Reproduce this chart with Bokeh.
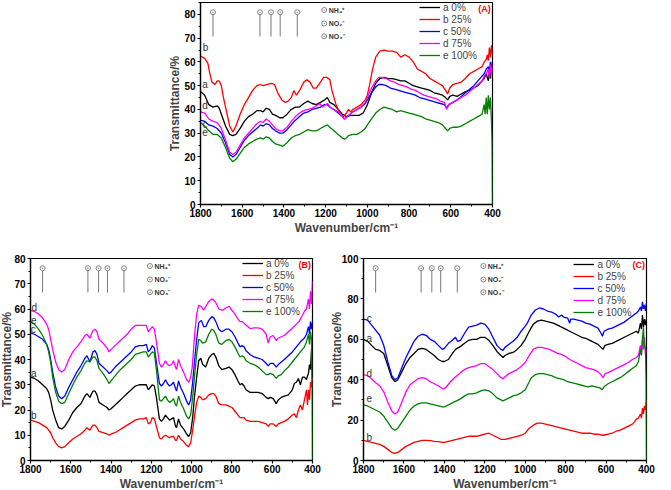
from bokeh.plotting import figure
from bokeh.models import Range1d, SingleIntervalTicker, Legend, LegendItem, Label, ColumnDataSource
from bokeh.layouts import column, row
from bokeh.embed import file_html
from bokeh.resources import INLINE

FONT = "Liberation Sans"

SERIES_LABELS = ["a 0%", "b 25%", "c 50%", "d 75%", "e 100%"]
CURVE_LETTERS = ["a", "b", "c", "d", "e"]
COLORS = ["#000000", "#ff0000", "#0000ff", "#ff00ff", "#008000"]
ION_LABELS = ["NH\u2084\u207a", "NO\u2082\u207b", "NO\u2083\u207b"]
PEAK_WN = [1740, 1515, 1462, 1418, 1336]
ION_LIST_WN = 1207
X_LABEL = "Wavenumber/cm\u207b\u00b9"
Y_LABEL = "Transmittance/%"

# ---------------- Panel A ----------------
A_a = [(1800,47.5),(1780,46),(1760,42),(1740,41),(1720,41.5),(1710,40.5),(1700,38),(1680,33),(1660,29.5),(1645,29),(1630,29.5),(1610,32),(1590,35),(1570,37),(1550,38),(1530,39.5),(1512,39.5),(1500,39),(1485,40.5),(1470,40),(1455,38),(1440,37.5),(1420,36.5),(1405,36.5),(1385,38),(1365,40),(1345,41),(1325,41),(1305,42.5),(1285,43.5),(1265,42.5),(1245,42),(1225,43),(1205,44),(1192,45),(1180,43),(1160,42),(1140,40),(1120,38),(1100,37),(1080,37.5),(1060,37.5),(1040,37.5),(1020,38.5),(1000,42),(980,47),(960,51),(940,53),(920,53.5),(900,53),(880,53),(860,52.5),(840,52),(820,52),(800,51),(780,50),(760,49.5),(740,49),(720,48.5),(700,48),(680,47),(660,46.5),(640,46),(625,45),(615,44),(605,45.5),(590,46),(570,45.5),(550,46.5),(530,47.5),(510,48),(490,49),(470,50),(450,52),(440,53),(430,55),(420,52),(415,57),(410,53),(405,58),(400,55)]
A_b = [(1800,62.5),(1780,61.5),(1765,59.5),(1755,55),(1745,51.5),(1730,50.5),(1720,52),(1710,52),(1700,50),(1690,45),(1675,39),(1660,33),(1645,30.5),(1630,33),(1610,38),(1590,42),(1570,45),(1550,48),(1530,50),(1515,50.5),(1500,50),(1480,50.5),(1460,51),(1445,50.5),(1430,47),(1410,44),(1395,43),(1380,43.5),(1365,45),(1352,48),(1340,46),(1325,48),(1305,51.5),(1290,52.5),(1275,51.5),(1260,49),(1245,49),(1225,51.5),(1210,53.5),(1195,53.5),(1180,52.5),(1170,48),(1150,42),(1130,38),(1115,37),(1100,38.5),(1090,40),(1080,39),(1070,40),(1050,41),(1030,42),(1010,44),(1000,46),(990,50),(975,57),(960,62),(940,64.5),(920,65),(900,64.5),(880,64.5),(860,64),(840,62),(820,63),(800,62),(780,60),(760,57),(740,56),(720,55),(700,53),(680,52),(660,51),(640,50),(625,48),(615,46.5),(605,49),(590,50.5),(570,51),(550,51.5),(530,53),(510,55),(490,56),(470,57),(450,58),(440,60),(430,61),(425,63),(420,60.5),(415,66),(410,62),(405,67),(400,63)]
A_c = [(1800,35.5),(1780,35),(1760,33.5),(1740,33),(1720,32),(1700,30),(1680,26),(1660,21),(1645,20),(1630,21),(1610,24),(1590,27),(1570,29),(1550,30.5),(1530,32),(1512,33.5),(1500,33),(1485,34),(1470,33.5),(1455,32),(1440,31),(1420,30),(1405,30),(1385,31.5),(1365,33.5),(1345,35.5),(1325,37),(1305,38.5),(1285,39),(1265,40),(1245,40.5),(1225,41),(1205,42),(1192,42),(1180,41),(1160,40),(1140,38.5),(1120,37),(1110,36),(1090,37.5),(1070,39),(1050,40),(1030,41),(1010,42.5),(1000,44),(980,47),(960,49.5),(945,50.5),(930,50.5),(910,50),(890,49),(870,48.5),(850,48),(830,47.5),(810,47),(790,46.5),(770,46),(750,45),(730,44.5),(710,44),(690,43.5),(670,43),(650,42.5),(630,42),(620,40.5),(610,42),(590,43),(570,44),(550,45.5),(530,47),(510,48.5),(490,50),(470,52),(450,54),(440,55),(430,57),(420,58),(415,56),(410,60),(405,57),(400,60)]
A_d = [(1800,39),(1780,38.5),(1760,36),(1740,35),(1720,34.5),(1700,32),(1680,27),(1660,22),(1645,21),(1630,22),(1610,25),(1590,28),(1570,30),(1550,32),(1530,34),(1512,35),(1500,34.5),(1485,36),(1470,35),(1455,33.5),(1440,32),(1420,31),(1405,31),(1385,32.5),(1365,35),(1345,37),(1325,38.5),(1305,39.5),(1285,40),(1265,40.5),(1245,41.5),(1228,42.5),(1215,41),(1200,42),(1190,42.5),(1180,41),(1160,40),(1140,39),(1120,37),(1110,36),(1090,37.5),(1070,39),(1050,40),(1030,41),(1010,43),(1000,45),(980,49),(960,52),(945,53.5),(930,53.5),(910,53),(890,52),(870,51.5),(850,50.5),(830,50),(810,49.5),(790,48.5),(770,48),(750,47),(730,46),(710,45.5),(690,45),(670,44.5),(650,43.5),(630,43),(620,40),(610,42),(590,43),(570,44),(550,45),(530,46),(510,47.5),(490,49),(470,50.5),(450,52),(440,54),(430,55),(420,57),(415,53),(410,59),(405,55),(400,58)]
A_e = [(1800,34.5),(1780,33),(1760,31),(1740,29.5),(1720,29.5),(1700,28),(1680,24),(1660,19.5),(1645,18),(1630,19),(1610,21.5),(1590,24),(1570,25.5),(1550,26.5),(1530,27.5),(1512,28),(1500,27.5),(1485,28.5),(1470,28),(1455,26.5),(1440,25.5),(1420,25),(1405,24.5),(1385,26),(1365,28),(1345,29),(1325,29.5),(1305,30.5),(1285,31.5),(1265,31),(1245,31),(1225,32),(1205,33),(1192,33.5),(1180,32.5),(1160,31),(1140,29.5),(1120,28),(1110,27.5),(1100,28),(1090,29),(1070,29.5),(1050,29.5),(1030,30.5),(1010,32),(1000,33.5),(980,36),(960,38.5),(940,40),(920,41),(900,40.5),(880,40),(860,39),(840,39.5),(820,39),(800,38.5),(780,38),(760,37.5),(740,37),(720,36),(700,35.5),(680,35),(660,34.5),(640,33.5),(625,32),(615,31),(605,32),(590,32.5),(570,32.5),(550,33),(530,34),(510,35),(490,36),(470,37),(450,38),(440,42),(435,38),(430,45),(425,38),(420,46),(415,40),(410,45),(405,35),(402,26),(400,0)]
A_LETTER_POS = [(1778, 50.5), (1776, 66), (1778, 33.5), (1778, 41.5), (1778, 30.5)]

# ---------------- Panel B ----------------
B_a = [(1800,33),(1780,32.5),(1760,31.5),(1740,30),(1720,28.5),(1710,27),(1700,24),(1690,20),(1675,16),(1660,13),(1645,12.5),(1630,13.5),(1610,16),(1590,19),(1570,21),(1550,22.5),(1530,25.5),(1520,26.5),(1505,25),(1490,27.5),(1480,27.5),(1470,26),(1460,23),(1440,22),(1420,21),(1410,20),(1400,20.5),(1380,22),(1360,23.5),(1340,25),(1320,26.5),(1300,28),(1280,29.5),(1260,30),(1240,30),(1225,30),(1215,28),(1205,29),(1195,30),(1185,29.5),(1175,25),(1160,16.5),(1150,15.5),(1140,16.5),(1130,18),(1120,17),(1110,16),(1100,16.5),(1090,17),(1080,13.5),(1075,13),(1065,16.5),(1055,14),(1040,12.5),(1025,10.5),(1015,9.5),(1005,11),(995,17),(985,26),(975,33),(965,39.5),(955,40.5),(945,38),(930,37),(915,40.5),(900,42),(890,42.5),(880,41),(865,37.5),(850,36),(830,36.5),(815,37),(800,36),(785,34),(770,31.5),(760,30),(750,30.5),(740,29.5),(730,28),(710,27),(690,27),(670,27),(650,26.5),(630,25),(620,24.5),(610,25),(595,24.5),(580,22.5),(570,24),(555,25),(540,25.5),(520,26),(500,28),(490,30.5),(480,31),(470,32.5),(460,30),(450,33),(440,33),(430,32),(425,33.5),(420,34.5),(415,38),(410,36),(405,44),(400,32)]
B_b = [(1800,16),(1780,15.5),(1760,15),(1740,14),(1720,13),(1700,11),(1690,9),(1675,7),(1660,5.5),(1645,5),(1630,5.5),(1610,7),(1590,8.5),(1570,9.5),(1550,10.5),(1530,12),(1520,13),(1505,12),(1490,14),(1480,14),(1470,13),(1460,11.5),(1440,11),(1420,10.5),(1410,10),(1400,10.5),(1380,11),(1360,12),(1340,13),(1320,14),(1300,15),(1280,16),(1260,16.5),(1240,16.5),(1225,17),(1215,14.5),(1205,15),(1195,17),(1185,16.5),(1175,13.5),(1160,9),(1150,8.5),(1140,9.5),(1130,10),(1120,9.5),(1110,9),(1100,9.5),(1090,9.5),(1080,8),(1075,8),(1065,10),(1055,8.5),(1040,7.5),(1025,6),(1015,5.5),(1005,7),(995,12),(985,18),(975,23),(965,25.5),(955,25),(945,24),(930,24.5),(915,26),(900,26.5),(890,26.5),(880,25.5),(865,22.5),(850,22),(830,22),(815,21.5),(800,21),(785,19.5),(770,18),(760,17),(750,17),(740,17),(730,16),(710,15.5),(690,15.5),(670,15.5),(650,15),(630,14.5),(620,13.5),(610,14.5),(595,14.5),(580,13.5),(570,14.5),(555,15),(540,15.5),(520,16.5),(500,18),(490,18.5),(480,17),(470,20),(460,22),(450,20),(440,24),(430,28),(425,22),(420,28),(415,24),(410,31),(405,29),(400,33)]
B_c = [(1800,50.5),(1780,50),(1760,49),(1740,48),(1720,46),(1710,44),(1700,40),(1690,35),(1675,29),(1660,25.5),(1645,24.5),(1630,25.5),(1610,29),(1590,32),(1570,35),(1550,37.5),(1530,40.5),(1520,41.5),(1505,39),(1490,43),(1480,43.5),(1470,42),(1460,38.5),(1440,37),(1420,35.5),(1410,34.5),(1400,35),(1380,37),(1360,38.5),(1340,40),(1320,41.5),(1300,43),(1280,45),(1260,45.5),(1240,45.5),(1225,46),(1215,43),(1205,44),(1195,45.5),(1185,44.5),(1175,39),(1160,30.5),(1150,29.5),(1140,30.5),(1130,32),(1120,30.5),(1110,29.5),(1100,30),(1090,31),(1080,28.5),(1075,27.5),(1065,31.5),(1055,29),(1040,26.5),(1025,23.5),(1015,22),(1005,24),(995,31),(985,40),(975,48),(965,54.5),(952,55.5),(940,53),(930,53),(915,55.5),(900,57),(890,56.5),(880,55),(865,52),(850,51),(830,52),(815,52),(800,51),(785,49),(770,46.5),(760,45),(750,45.5),(740,45),(730,43.5),(710,42),(690,41),(670,40.5),(650,40),(630,38.5),(620,37.5),(610,38.5),(595,38.5),(580,37),(570,38),(555,39),(540,40),(520,41.5),(500,43),(480,45),(460,47),(440,48.5),(430,50),(420,53),(415,50),(410,55),(405,52),(400,55)]
B_d = [(1800,59.5),(1780,59),(1760,58),(1740,56.5),(1720,54),(1710,52),(1700,48),(1690,44),(1675,39),(1660,36),(1645,35),(1630,36),(1610,40),(1590,43),(1570,45),(1550,47),(1530,49.5),(1520,50),(1505,48.5),(1490,51.5),(1480,52),(1470,51),(1460,48),(1440,46.5),(1420,44.5),(1410,43),(1400,44),(1380,45.5),(1360,47),(1340,48.5),(1320,50),(1300,52),(1280,53.5),(1260,53.5),(1240,53.5),(1225,53.5),(1215,51),(1205,52),(1195,53),(1185,52),(1175,47),(1160,38.5),(1150,37),(1140,38),(1130,39.5),(1120,38),(1110,37.5),(1100,38),(1090,39.5),(1080,37),(1075,36),(1065,40),(1055,37.5),(1040,35),(1025,32),(1013,31),(1005,33),(997,37),(985,50),(975,58),(965,61.5),(952,61),(941,59.5),(930,61),(915,63),(900,64),(890,63.5),(880,62.5),(865,60),(845,59.5),(830,60.5),(813,61),(800,59.5),(785,58),(770,56),(760,55),(748,55),(735,54),(720,53),(708,52.2),(690,52.5),(670,52.5),(650,52),(630,50),(620,46.5),(610,49),(595,49.5),(580,47.5),(572,48.3),(555,49),(540,49.5),(520,51),(500,52.5),(480,54),(467,55),(450,57.5),(440,59),(430,60),(420,64),(415,60),(410,67),(405,62),(400,71)]
B_e = [(1800,55),(1780,54),(1760,52),(1740,49.5),(1720,46),(1710,43),(1700,39),(1690,33),(1675,27),(1660,23.5),(1645,22.5),(1630,23),(1610,26.5),(1590,30),(1570,33),(1550,35.5),(1530,38.5),(1520,39.5),(1505,39),(1490,41),(1480,41),(1470,39.5),(1460,36.5),(1440,34.5),(1420,32),(1410,30.5),(1400,31.5),(1380,33.5),(1360,35.5),(1340,37),(1320,38.5),(1300,40),(1280,42),(1260,42.5),(1240,43),(1225,43),(1215,41),(1205,42),(1195,43),(1185,42.5),(1175,36),(1160,24),(1150,23.5),(1140,24.5),(1130,25.5),(1120,24),(1110,23),(1100,23.5),(1090,24.5),(1080,22),(1075,21.5),(1065,25.5),(1055,23),(1040,20.5),(1025,17.5),(1015,16.5),(1005,18),(995,25),(985,34),(975,42),(965,48),(955,47.5),(945,46.5),(930,47),(915,50),(900,52),(890,51.5),(880,50),(865,46.5),(850,46),(830,47.5),(815,48),(800,47),(785,45),(770,42.5),(760,41),(750,41.5),(740,41),(730,39.5),(710,38.5),(690,38),(670,37),(650,35.5),(630,34),(620,34),(610,34.5),(595,34),(580,32.5),(570,33.5),(555,34),(540,35.5),(520,37),(500,39),(480,41),(460,43),(440,45),(430,47),(420,50),(415,46),(410,51),(405,48),(402,30),(400,0)]
B_LETTER_POS = [(1784, 34.5), (1784, 17.8), (1786, 51.8), (1781, 60.5), (1784, 55.8)]

# ---------------- Panel C ----------------
C_a = [(1800,60),(1780,59),(1760,57),(1740,55),(1720,54.5),(1700,53),(1680,47),(1660,41),(1645,39),(1630,40),(1610,44),(1590,48),(1570,51),(1550,53),(1530,55),(1510,55.5),(1490,55),(1470,53.5),(1450,52),(1430,50),(1410,49),(1400,49),(1380,50),(1360,53),(1345,55),(1320,56.5),(1300,58),(1280,59.5),(1260,60),(1240,60),(1220,61),(1200,61),(1180,59.5),(1160,57),(1140,54),(1120,52),(1110,51),(1100,52),(1080,53),(1060,53.5),(1040,55),(1020,57),(1000,60),(980,64),(960,67.5),(940,69),(920,69.5),(900,69),(880,68.5),(860,68),(840,67),(820,66),(800,65),(780,64),(760,63),(740,62),(720,61),(700,60.5),(680,59.5),(660,58.5),(640,57.5),(625,56),(615,55),(605,57),(590,57.5),(570,58),(550,59),(530,60),(510,61),(490,62),(470,63),(450,64),(440,63),(430,68),(425,65),(420,72),(415,66),(410,70),(405,67),(400,70)]
C_b = [(1800,10),(1780,9.5),(1760,9),(1740,8.5),(1720,8),(1700,7),(1680,5.5),(1660,4),(1645,3.5),(1630,4),(1610,5.5),(1590,7),(1570,8),(1550,9),(1530,9.5),(1510,10),(1490,10),(1470,9.8),(1450,9.5),(1430,9.3),(1410,9),(1400,9),(1380,9.5),(1360,10),(1340,10.5),(1320,11),(1300,11.5),(1280,12),(1260,12),(1240,12),(1220,12.5),(1200,13),(1180,13.5),(1160,12.5),(1140,11.5),(1120,10.5),(1110,10.5),(1100,10.5),(1080,11),(1060,11.5),(1040,12),(1020,12.5),(1000,13.5),(980,16),(960,17.5),(940,18.5),(920,18.5),(900,18),(880,17.5),(860,17),(840,16.5),(820,16),(800,15.5),(780,15),(760,14.5),(740,14),(720,13.5),(700,13.5),(680,13.5),(660,13),(640,13),(620,12.5),(610,12.5),(590,13),(570,13.5),(550,14.5),(530,15),(510,16),(490,17),(470,18),(460,19),(450,20.5),(440,21),(430,23),(425,21),(420,26),(415,23),(410,27),(405,25),(400,30)]
C_c = [(1800,70),(1780,69.5),(1760,67),(1740,64.5),(1720,62),(1700,57),(1680,49),(1660,42),(1645,40),(1630,41),(1610,46),(1590,51),(1570,55),(1550,59),(1530,61.5),(1510,62.5),(1490,62),(1470,60),(1450,59),(1430,57),(1410,55),(1400,55.5),(1380,58),(1360,59.5),(1345,61),(1335,59),(1320,59.5),(1300,63),(1280,66),(1260,66.5),(1240,67),(1220,68),(1200,67.5),(1180,65),(1160,61),(1140,57),(1120,55),(1110,54.5),(1100,56),(1080,57.5),(1060,59),(1040,61),(1020,64),(1000,66.5),(990,68),(970,72),(950,74.5),(930,75.5),(910,75),(890,74),(870,73.5),(850,72.5),(834,71),(820,72),(810,71),(790,70.5),(780,68),(775,70),(760,70),(740,69.5),(720,69),(700,68),(680,67.5),(660,66.5),(640,65.5),(625,63),(618,61.5),(610,64),(590,65),(570,65.5),(550,66.5),(530,67.5),(510,68.5),(490,70),(470,71.5),(450,73),(440,74),(430,76),(425,74),(420,78.5),(415,75),(410,77),(405,74),(400,78)]
C_d = [(1800,42.5),(1780,42),(1760,40.5),(1740,38.5),(1720,37),(1700,34),(1680,29),(1660,24.5),(1645,23),(1630,24),(1610,29),(1590,34),(1570,37.5),(1550,39),(1530,40.5),(1510,41),(1490,40.5),(1470,39),(1450,38),(1430,37),(1410,35.5),(1400,35.5),(1390,36.5),(1370,39),(1350,41),(1320,43.5),(1300,45),(1280,46),(1260,46.5),(1240,47),(1220,48),(1200,48),(1180,46.5),(1160,45),(1140,43),(1120,41),(1110,40.5),(1100,41.5),(1080,43),(1060,44),(1040,45),(1020,46.5),(1000,48.5),(980,52),(960,55),(940,56),(920,56),(900,55.5),(880,55),(860,54),(840,53),(820,52.5),(800,51.5),(780,50),(760,49),(740,48),(720,47),(700,46),(680,45.5),(660,45),(640,44),(625,42.5),(615,41),(605,43),(590,43.5),(570,44.5),(550,45.5),(530,46.5),(510,47.5),(490,48.5),(470,50),(450,51),(440,52),(430,57),(425,53),(420,60),(415,55),(410,61),(405,52),(400,55)]
C_e = [(1800,27.5),(1780,27),(1760,26),(1740,25),(1720,24),(1700,22),(1680,19),(1660,16),(1645,15),(1630,16),(1610,19),(1590,22),(1570,25),(1550,27),(1530,28),(1510,28.5),(1490,28.5),(1470,28),(1450,27.5),(1430,27),(1410,26.5),(1400,26.5),(1380,27.5),(1360,28.5),(1340,29.5),(1320,30.5),(1300,32),(1280,33),(1260,33),(1240,33.5),(1220,34.5),(1200,35),(1180,34.5),(1160,33),(1140,31),(1120,30),(1110,29.5),(1100,30),(1080,31),(1060,32),(1040,32.5),(1020,33.5),(1000,35),(985,38),(970,41),(950,42.5),(930,43),(910,43),(890,42.5),(870,42),(850,41),(830,40.5),(810,40),(790,39),(770,38.5),(750,38),(730,37.5),(710,37),(690,36.5),(670,37),(650,36.5),(630,36),(620,35),(610,36.5),(590,38),(570,39),(550,40),(530,41),(510,42.5),(490,44),(470,45.5),(450,47),(440,49),(430,55),(425,52),(420,60),(415,66),(412,58),(405,55),(402,40),(400,0)]
C_LETTER_POS = [(1772, 60.2), (1772, 11.3), (1772, 70.4), (1772, 43), (1772, 31)]


def style_axes(p, y_interval, ylabel_standoff):
    p.xaxis.ticker = SingleIntervalTicker(interval=200, num_minor_ticks=2)
    p.yaxis.ticker = SingleIntervalTicker(interval=y_interval, num_minor_ticks=2)
    for ax in (p.xaxis[0], p.yaxis[0]):
        ax.axis_line_width = 1.3
        ax.major_tick_in = 0
        ax.major_tick_out = 3
        ax.minor_tick_in = 0
        ax.minor_tick_out = 2
        ax.major_tick_line_width = 1.2
        ax.major_label_standoff = 2
        ax.major_label_text_font = FONT
        ax.major_label_text_font_style = "bold"
        ax.major_label_text_font_size = "10px"
        ax.major_label_text_color = "black"
        ax.axis_label_text_font = FONT
        ax.axis_label_text_font_style = "bold"
        ax.axis_label_text_font_size = "12px"
    p.xaxis[0].major_label_standoff = 1
    p.xaxis[0].axis_label_standoff = 1
    p.yaxis[0].axis_label_standoff = ylabel_standoff
    p.xaxis.axis_label = X_LABEL
    p.yaxis.axis_label = Y_LABEL
    p.xgrid.visible = False
    p.ygrid.visible = False


def make_panel(series, ymax, y_interval, tag, letter_pos, fw, lb, rb, tb, bb, legend_xy,
               ylabel_standoff=-1):
    p = figure(x_range=Range1d(1800, 400), y_range=Range1d(0, ymax),
               frame_width=fw, frame_height=202,
               min_border_left=lb, min_border_right=rb, min_border_top=tb, min_border_bottom=bb,
               output_backend="svg", toolbar_location=None,
               outline_line_color="black", outline_line_width=1.2,
               border_fill_color="white", background_fill_color="white")
    style_axes(p, y_interval, ylabel_standoff)
    px = ymax / 202.0  # data units per screen pixel (vertical)

    items = []
    for data, color, lab in zip(series, COLORS, SERIES_LABELS):
        src = ColumnDataSource(dict(x=[d[0] for d in data], y=[d[1] for d in data]))
        r = p.line("x", "y", source=src, line_color=color, line_width=1.3)
        items.append(LegendItem(label=lab, renderers=[r]))

    legend = Legend(items=items, location=legend_xy, padding=0, margin=0, spacing=0,
                    glyph_width=21, glyph_height=12, label_height=12, label_standoff=3,
                    label_text_font=FONT, label_text_font_size="10px",
                    background_fill_alpha=0, border_line_color=None)
    p.add_layout(legend)

    # curve letters
    lsrc = ColumnDataSource(dict(x=[q[0] for q in letter_pos], y=[q[1] for q in letter_pos], t=CURVE_LETTERS))
    p.text("x", "y", text="t", source=lsrc, text_font_size="10px", text_color="#333333",
           text_align="center", text_baseline="middle", text_font={"value": FONT})

    # peak markers
    n = len(PEAK_WN)
    p.segment(x0=PEAK_WN, y0=[ymax - 12 * px] * n, x1=PEAK_WN, y1=[ymax - 34 * px] * n,
              line_color="#777777", line_width=1)
    p.scatter(PEAK_WN, [ymax - 9.7 * px] * n, marker="circle_dot", size=5,
              line_color="#666666", fill_color="white", line_width=0.8)

    # ion list
    ion_y = [ymax - 7.5 * px, ymax - 21 * px, ymax - 33.7 * px]
    p.scatter([ION_LIST_WN] * 3, ion_y, marker="circle_dot", size=5,
              line_color="#666666", fill_color="white", line_width=0.8)
    isrc = ColumnDataSource(dict(x=[ION_LIST_WN - 22] * 3, y=ion_y, t=ION_LABELS))
    p.text("x", "y", text="t", source=isrc, text_font_size="7px", text_font_style="bold",
           text_color="#333333", text_align="left", text_baseline="middle", text_font={"value": FONT})

    p.add_layout(Label(x=408, y=ymax - 6 * px, text=tag, text_color="red", text_font_style="bold",
                       text_font_size="9px", text_font=FONT, text_align="right", text_baseline="middle"))
    return p


pA = make_panel([A_a, A_b, A_c, A_d, A_e], 85, 10, "(A)", A_LETTER_POS,
                fw=292, lb=200, rb=12, tb=2, bb=36, legend_xy=(219, 143))
pB = make_panel([B_a, B_b, B_c, B_d, B_e], 80, 10, "(B)", B_LETTER_POS,
                fw=290, lb=45, rb=11, tb=18, bb=30, legend_xy=(212, 143),
                ylabel_standoff=-3)
pC = make_panel([C_a, C_b, C_c, C_d, C_e], 100, 20, "(C)", C_LETTER_POS,
                fw=291, lb=40, rb=9, tb=18, bb=30, legend_xy=(210, 142),
                ylabel_standoff=-5)

layout = column(pA, row(pB, pC, styles={"margin-left": "-15px"}))

open("out.html", "w").write(file_html(layout, INLINE))
